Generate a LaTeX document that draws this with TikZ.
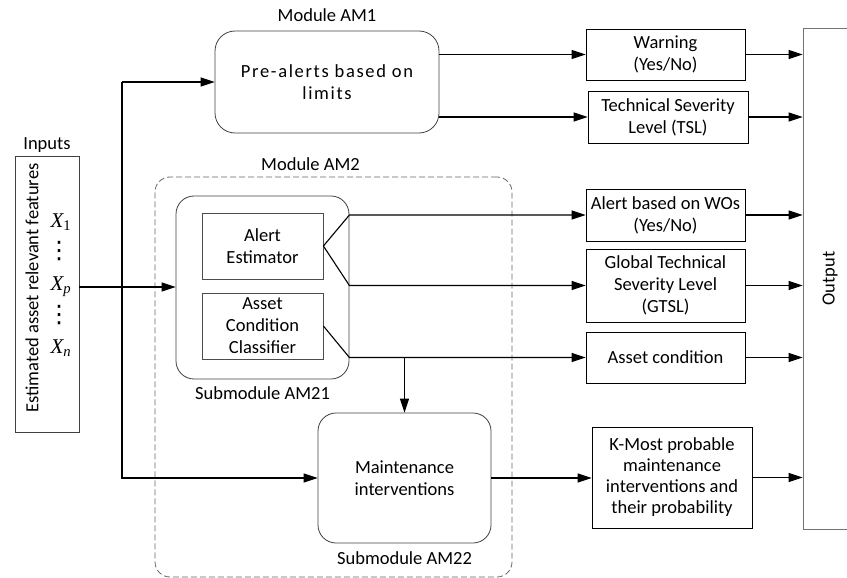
\documentclass[tikz,border=0pt]{standalone}
\usepackage{fontspec}
\setmainfont{Carlito}
\newfontfamily\xfont{Liberation Serif}
\newfontfamily\symfont{DejaVu Sans}
\usepackage{tikz}
\usetikzlibrary{
  arrows.meta,
  positioning
}

\begin{document}
\begin{tikzpicture}[x=1pt, y=-1pt,
    every node/.style={font=\fontsize{18.5}{22}\selectfont, text centered, inner sep=0pt},
    block/.style={draw=black!75, line width=0.8pt, rounded corners=18pt, minimum width=173pt, align=center},
    inner/.style={draw=black!70, line width=0.8pt, minimum width=121pt, minimum height=66pt, align=center},
    field/.style={draw, line width=0.8pt, minimum width=159pt, align=center},
    caption/.style={inner sep=1pt},
    feature/.style={font=\fontsize{21}{21}\selectfont\xfont\itshape},
    dots/.style={font=\fontsize{24}{24}\selectfont\symfont},
    link/.style={line width=1.1pt},
    arrow/.style={link, -{Triangle[length=14pt, width=9pt]}}]
\useasboundingbox (0,0) rectangle (847,578);

\node [draw=black!75, line width=0.8pt, minimum width=64pt, minimum height=276pt] (inputs) at (47,294) {};
\node [caption, above=2pt of inputs] (inlabel) {Inputs};
\node [rotate=90] (featlabel) at (32,288) {Estimated asset relevant features};
\node [feature] (x1) at (61,222) {X\textsubscript{\upshape 1}};
\node [dots] (d1) at (59,251) {⋮};
\node [feature] (xp) at (61,287) {X\textsubscript{p}};
\node [dots] (d2) at (59,315) {⋮};
\node [feature] (xn) at (61,348) {X\textsubscript{n}};
\coordinate (bus) at (122,287);

\node [block, minimum width=224pt, minimum height=102pt, rounded corners=20pt,
       font=\fontsize{18.5}{22}\selectfont\addfontfeature{LetterSpace=9}] (prealert) at (327,82) {Pre-alerts based on\\limits};
\node [caption, above=8pt of prealert] (am1) {Module AM1};

\node [draw=black!60, line width=0.8pt, dash pattern=on 6pt off 3pt, rounded corners=15pt,
       minimum width=357pt, minimum height=400pt] (am2) at (333.5,377) {};
\node [caption, above=5pt of am2.north, xshift=-23pt] (am2label) {Module AM2};

\node [block, minimum height=183pt] (sub21) at (262.5,287.5) {};
\node [inner] (est) at (262.5,246) {Alert\\Estimator};
\node [inner] (cls) at (262.5,326) {Asset\\Condition\\Classifier};
\node [caption, below=6pt of sub21] (am21) {Submodule AM21};

\node [block, minimum height=130pt] (maint) at (404.5,478) {Maintenance\\interventions};
\node [caption, below=7pt of maint] (am22) {Submodule AM22};

\node [field, minimum height=51pt] (warn) at (665.5,54.5) {Warning\\(Yes/No)};
\node [field, minimum width=160pt, minimum height=52pt] (tsl) at (668,117) {Technical Severity\\Level (TSL)};
\node [field, minimum height=52pt] (wos) at (665.5,215) {Alert based on WOs\\(Yes/No)};
\node [field, minimum height=73pt] (gtsl) at (665.5,285.5) {Global Technical\\Severity Level\\(GTSL)};
\node [field, minimum height=51pt] (cond) at (665.5,357.5) {Asset condition};
\node [field, minimum width=160pt, minimum height=101pt, font=\fontsize{18.5}{21}\selectfont] (kmost) at (672,477.5) {K-Most probable\\maintenance\\interventions and\\their probability};

\node [draw=black!55, line width=0.8pt, minimum width=54pt, minimum height=501pt] (output) at (830,278.5) {};
\node [rotate=90] (outlabel) at (output) {Output};

\draw [arrow] (inputs.east |- xp) -- (sub21.west |- xp);
\draw [arrow] (bus |- prealert.west) -- (prealert.west);
\draw [arrow] (bus |- prealert.west) -- (bus |- maint.west) -- (maint.west);

\draw [arrow] (prealert.east |- warn.west) -- (warn.west);
\draw [arrow] (prealert.east |- tsl.west) -- (tsl.west);

\draw [arrow] (est.east) -- (sub21.east |- wos.west) -- (wos.west);
\draw [arrow] (est.east) -- (sub21.east |- gtsl.west) -- (gtsl.west);
\draw [arrow] (cls.east) -- (sub21.east |- cond.west) -- (cond.west);
\draw [arrow] (maint.north |- cond.west) -- (maint.north);
\draw [arrow] (maint.east) -- (maint.east -| kmost.west);

\draw [arrow] (warn.east) -- (warn.east -| output.west);
\draw [arrow] (tsl.east) -- (tsl.east -| output.west);
\draw [arrow] (wos.east) -- (wos.east -| output.west);
\draw [arrow] (gtsl.east) -- (gtsl.east -| output.west);
\draw [arrow] (cond.east) -- (cond.east -| output.west);
\draw [arrow] (kmost.east) -- (kmost.east -| output.west);
\end{tikzpicture}
\end{document}
